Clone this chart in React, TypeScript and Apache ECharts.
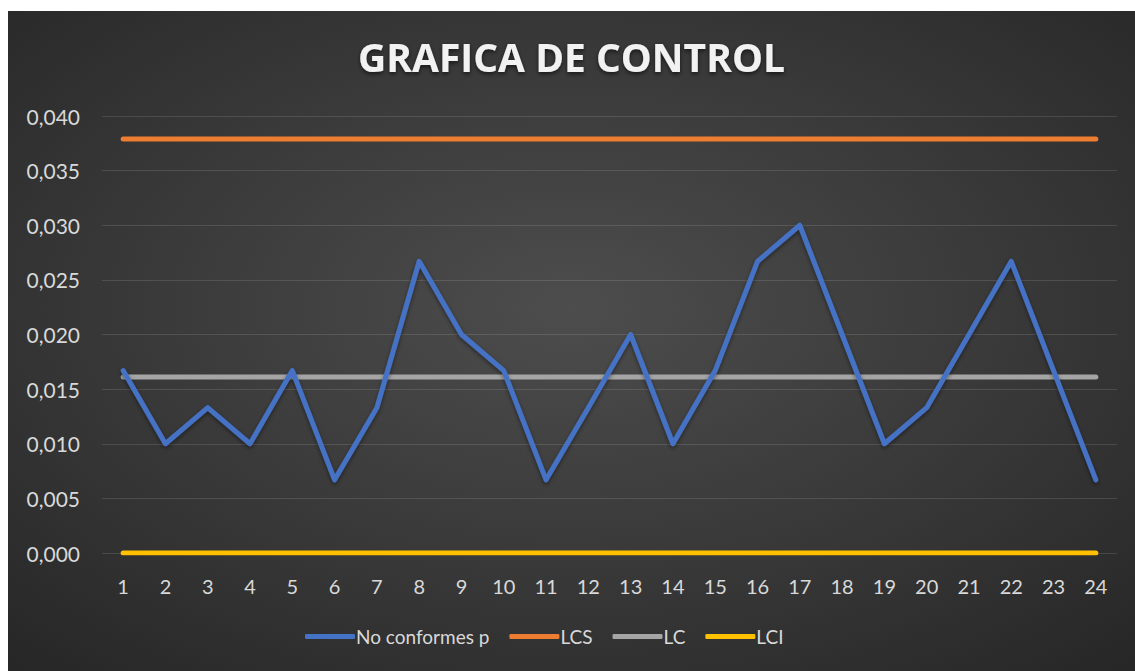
import React, { useEffect, useRef } from "react";
import * as echarts from "echarts";

const categories = ["1","2","3","4","5","6","7","8","9","10","11","12","13","14","15","16","17","18","19","20","21","22","23","24"];
const pValues = [0.0167,0.0100,0.0133,0.0100,0.0167,0.0067,0.0133,0.0267,0.0200,0.0167,0.0067,0.0133,0.0200,0.0100,0.0167,0.0267,0.0300,0.0200,0.0100,0.0133,0.0200,0.0267,0.0167,0.0067];
const lcsValue = 0.0379;
const lcValue = 0.0161;
const lciValue = 0;
const seriesNames = ["No conformes p", "LCS", "LC", "LCI"];
const seriesColors = ["#4472C4", "#ED7D31", "#A5A5A5", "#FFC000"];

export default function App() {
  const ref = useRef<HTMLDivElement>(null);
  useEffect(() => {
    if (!ref.current) return;
    const chart = echarts.init(ref.current, null, { renderer: "svg" });
    const font = "Lato, 'Open Sans', sans-serif";
    const lineData = [
      pValues,
      categories.map(() => lcsValue),
      categories.map(() => lcValue),
      categories.map(() => lciValue),
    ];
    chart.setOption({
      animation: false,
      backgroundColor: {
        type: "radial", x: 0.5, y: 0.45, r: 0.75,
        colorStops: [
          { offset: 0, color: "#4d4d4d" },
          { offset: 1, color: "#262626" },
        ],
      },
      title: {
        text: "GRAFICA DE CONTROL",
        left: "center",
        top: 21,
        textStyle: {
          color: "#f2f2f2", fontSize: 39, fontWeight: "bold", fontFamily: "'Open Sans', Lato, sans-serif",
          textShadowColor: "rgba(0,0,0,0.6)", textShadowBlur: 4, textShadowOffsetY: 2,
        },
      },
      legend: {
        bottom: 20,
        left: 292,
        itemWidth: 50,
        itemHeight: 5,
        itemGap: 20,
        icon: "roundRect",
        textStyle: { color: "#d9d9d9", fontSize: 19, fontFamily: font, padding: [0, 0, 0, -4] },
        data: seriesNames,
      },
      grid: { left: 94, right: 18, top: 105, bottom: 118, containLabel: false },
      xAxis: {
        type: "category",
        data: categories,
        boundaryGap: true,
        axisLine: { show: false },
        axisTick: { show: false },
        axisLabel: { color: "#d9d9d9", fontSize: 20, fontFamily: font, margin: 23 },
      },
      yAxis: {
        type: "value",
        min: 0,
        max: 0.04,
        interval: 0.005,
        axisLine: { show: false },
        axisTick: { show: false },
        splitLine: { lineStyle: { color: "rgba(255,255,255,0.12)", width: 1 } },
        axisLabel: {
          color: "#d9d9d9", fontSize: 21, fontFamily: font, margin: 22,
          formatter: (v: number) => v.toFixed(3).replace(".", ","),
        },
      },
      series: seriesNames.map((name, i) => ({
        name,
        type: "line",
        data: lineData[i],
        symbol: "none",
        z: i === 0 ? 3 : 2,
        itemStyle: { color: seriesColors[i] },
        lineStyle: i === 0
          ? {
              color: seriesColors[i], width: 5, cap: "round", join: "round",
              shadowColor: "rgba(0,0,0,0.45)", shadowBlur: 4, shadowOffsetY: 2,
            }
          : { color: seriesColors[i], width: 5, cap: "round", join: "round" },
      })),
    });
    return () => chart.dispose();
  }, []);
  return (
    <div
      ref={ref}
      style={{ position: "absolute", left: 8, top: 11, width: 1127, height: 660 }}
    />
  );
}
